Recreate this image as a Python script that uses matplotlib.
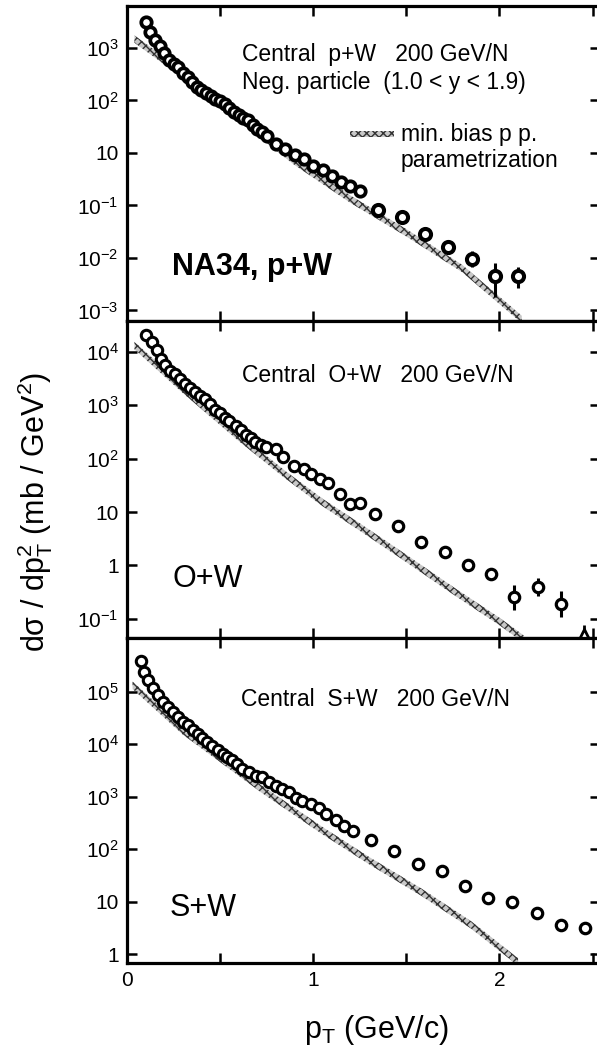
import numpy as np
import matplotlib.pyplot as plt
from matplotlib.patches import Rectangle
from matplotlib.ticker import FixedLocator, FixedFormatter, NullLocator

plt.rcParams['font.family'] = ['Liberation Sans', 'DejaVu Sans']
plt.rcParams['mathtext.fontset'] = 'custom'
plt.rcParams['mathtext.rm'] = 'Liberation Sans'
plt.rcParams['mathtext.default'] = 'regular'
plt.rcParams['hatch.linewidth'] = 1.0

# ---- data (y read off in log10 decades) ----
# top panel p+W  (axis labels in the original skip "1": 10^3,10^2,10,10^-1,...)
pw_pt = [0.10, 0.125, 0.15, 0.175, 0.20, 0.225, 0.25, 0.275, 0.30, 0.325, 0.35, 0.375,
         0.40, 0.425, 0.45, 0.475, 0.50, 0.525, 0.55, 0.575, 0.60, 0.625, 0.65, 0.675,
         0.70, 0.725, 0.75, 0.80, 0.85, 0.90, 0.95, 1.00, 1.05, 1.10, 1.15, 1.20, 1.25]
pw_log = [3.50, 3.30, 3.15, 3.03, 2.90, 2.78, 2.70, 2.63, 2.53, 2.44, 2.35, 2.26,
          2.20, 2.14, 2.09, 2.03, 1.99, 1.93, 1.86, 1.78, 1.73, 1.67, 1.62, 1.53,
          1.46, 1.40, 1.32, 1.18, 1.07, 0.96, 0.89, 0.76, 0.67, 0.56, 0.45, 0.38, 0.27]
pw_hi_pt = [1.35, 1.475, 1.6, 1.725, 1.85, 1.975, 2.1]
pw_hi_log = [-0.08, -0.22, -0.55, -0.80, -1.02, -1.35, -1.35]
pw_err_dn = [0, 0, 0.10, 0.12, 0.16, 0.40, 0.22]
pw_err_up = [0, 0, 0.10, 0.12, 0.16, 0.25, 0.18]
pw_band_pt = [0.04, 0.3, 0.6, 0.9, 1.2, 1.5, 1.8, 2.12]
pw_band_log = [3.17, 2.50, 1.68, 0.84, 0.12, -0.52, -1.20, -2.17]

# middle panel O+W
ow_pt = [0.10, 0.135, 0.16, 0.18, 0.205, 0.23, 0.26, 0.285, 0.31, 0.34, 0.365, 0.39,
         0.42, 0.445, 0.47, 0.50, 0.525, 0.55, 0.585, 0.61, 0.64, 0.665, 0.69, 0.72,
         0.745, 0.80, 0.84, 0.895, 0.95, 0.99, 1.035, 1.08, 1.145, 1.195, 1.25]
ow_log = [4.32, 4.18, 4.03, 3.87, 3.75, 3.65, 3.59, 3.49, 3.40, 3.33, 3.25, 3.17,
          3.11, 3.02, 2.92, 2.86, 2.76, 2.70, 2.62, 2.54, 2.44, 2.38, 2.32, 2.25,
          2.22, 2.19, 2.03, 1.87, 1.81, 1.71, 1.62, 1.55, 1.34, 1.15, 1.17]
ow_hi_pt = [1.33, 1.455, 1.58, 1.705, 1.83, 1.955, 2.08, 2.205, 2.33]
ow_hi_log = [0.96, 0.73, 0.44, 0.25, 0.0, -0.16, -0.60, -0.41, -0.72]
ow_err = [0, 0, 0, 0, 0.10, 0.12, 0.24, 0.17, 0.25]
ow_limit_pt = 2.455
ow_band_pt = [0.04, 0.3, 0.6, 0.85, 1.05, 1.25, 1.5, 1.75, 2.0, 2.13]
ow_band_log = [4.12, 3.30, 2.40, 1.70, 1.18, 0.72, 0.13, -0.47, -1.05, -1.38]

# bottom panel S+W
sw_pt = [0.075, 0.093, 0.111, 0.138, 0.165, 0.191, 0.218, 0.245, 0.272, 0.299, 0.325,
         0.352, 0.379, 0.405, 0.432, 0.459, 0.486, 0.513, 0.539, 0.566, 0.593, 0.62,
         0.656, 0.692, 0.727, 0.763, 0.799, 0.835, 0.87, 0.906, 0.942, 0.987, 1.031,
         1.067, 1.121, 1.165, 1.216]
sw_log = [5.58, 5.38, 5.22, 5.06, 4.94, 4.81, 4.71, 4.62, 4.52, 4.42, 4.36,
          4.26, 4.20, 4.12, 4.04, 3.97, 3.89, 3.81, 3.75, 3.69, 3.62, 3.52,
          3.46, 3.40, 3.37, 3.27, 3.21, 3.14, 3.08, 2.98, 2.92, 2.85, 2.79,
          2.66, 2.56, 2.44, 2.35]
sw_hi_pt = [1.31, 1.435, 1.56, 1.69, 1.815, 1.94, 2.07, 2.2, 2.33, 2.46]
sw_hi_log = [2.18, 1.96, 1.71, 1.59, 1.30, 1.07, 0.99, 0.79, 0.56, 0.49]
sw_band_pt = [0.03, 0.3, 0.72, 1.05, 1.3, 1.58, 1.85, 2.1]
sw_band_log = [5.12, 4.25, 3.15, 2.35, 1.78, 1.18, 0.55, -0.15]

top_ticks = [3, 2, 1, 0, -1, -2]
top_labels = ['$10^3$', '$10^2$', '10', '$10^{-1}$', '$10^{-2}$', '$10^{-3}$']
mid_ticks = [4, 3, 2, 1, 0, -1]
mid_labels = ['$10^4$', '$10^3$', '$10^2$', '10', '1', '$10^{-1}$']
bot_ticks = [5, 4, 3, 2, 1, 0]
bot_labels = ['$10^5$', '$10^4$', '$10^3$', '$10^2$', '10', '1']

W, H = 597, 1055
fig = plt.figure(figsize=(W / 100, H / 100), dpi=100)


def px_rect(x0, y0, x1, y1):
    return [x0 / W, 1 - y1 / H, (x1 - x0) / W, (y1 - y0) / H]


def setup(ax, ylog, ticks, labels, xlabels):
    ax.set_yscale('log')
    ax.set_xlim(0, 2.54)
    ax.set_ylim(10 ** ylog[0], 10 ** ylog[1])
    ax.yaxis.set_major_locator(FixedLocator([10.0 ** t for t in ticks]))
    ax.yaxis.set_major_formatter(FixedFormatter(labels))
    ax.yaxis.set_minor_locator(NullLocator())
    ax.xaxis.set_major_locator(FixedLocator([0, 0.5, 1, 1.5, 2, 2.5]))
    if xlabels:
        ax.xaxis.set_major_formatter(FixedFormatter(['0', '', '1', '', '2', '']))
    else:
        ax.xaxis.set_major_formatter(FixedFormatter([''] * 6))
    ax.tick_params(direction='in', length=7, width=1.8, top=True, right=True,
                   labelsize=15, pad=6)
    for s in ax.spines.values():
        s.set_linewidth(2.3)
    # right frame falls just outside the scanned picture; only its ticks show
    ax.spines['right'].set_visible(False)


def band(ax, pt, logy):
    y = 10 ** np.array(logy)
    ax.fill_between(pt, y / 10 ** 0.07, y * 10 ** 0.07, facecolor='#c8c8c8',
                    edgecolor='#333333', hatch='xxxx', linewidth=0, zorder=1)


def dense(ax, pt, logy, ms=7.5, mew=2.2):
    ax.plot(pt, 10 ** np.array(logy), 'o', ms=ms, mfc='white', mec='black',
            mew=mew, zorder=3)


def sparse(ax, pt, logy, dn, up, ms=7.5, mew=2.3):
    y = 10 ** np.array(logy)
    lo = y - y / 10 ** np.array(dn)
    hi = y * 10 ** np.array(up) - y
    ax.errorbar(pt, y, yerr=[lo, hi], fmt='o', ms=ms, mfc='white', mec='black',
                mew=mew, ecolor='black', elinewidth=2.2, capsize=0, zorder=3)


ax1 = fig.add_axes(px_rect(127, 6, 600, 321))
ax2 = fig.add_axes(px_rect(127, 321, 600, 638))
ax3 = fig.add_axes(px_rect(127, 638, 600, 963))

setup(ax1, (-2.2, 3.8), top_ticks, top_labels, False)
setup(ax2, (-1.36, 4.58), mid_ticks, mid_labels, False)
setup(ax3, (-0.17, 6.02), bot_ticks, bot_labels, True)

band(ax1, pw_band_pt, pw_band_log)
dense(ax1, pw_pt, pw_log, ms=7.5, mew=2.7)
sparse(ax1, pw_hi_pt, pw_hi_log, pw_err_dn, pw_err_up, ms=8, mew=2.9)

band(ax2, ow_band_pt, ow_band_log)
dense(ax2, ow_pt, ow_log)
sparse(ax2, ow_hi_pt, ow_hi_log, ow_err, ow_err)
ybot = ax2.get_ylim()[0]
ax2.vlines(ow_limit_pt, ybot, ybot * 10 ** 0.25, color='black', lw=2, zorder=3)
ax2.plot(ow_limit_pt, ybot * 10 ** 0.05, '^', ms=8, mfc='white', mec='black',
         mew=2, clip_on=False, zorder=4)

band(ax3, sw_band_pt, sw_band_log)
dense(ax3, sw_pt, sw_log)
sparse(ax3, sw_hi_pt, sw_hi_log, [0] * len(sw_hi_pt), [0] * len(sw_hi_pt))


def ftext(x, y, s, **kw):
    fig.text(x / W, 1 - y / H, s, va='center', **kw)


ftext(242, 55, 'Central  p+W   200 GeV/N', fontsize=16.5)
ftext(242, 83, 'Neg. particle  (1.0 < y < 1.9)', fontsize=16.5)
ftext(401, 134, 'min. bias p p.', fontsize=16.5)
ftext(401, 160, 'parametrization', fontsize=16.5)
fig.add_artist(Rectangle((350 / W, 1 - 137 / H), 44 / W, 6 / H, transform=fig.transFigure,
                         facecolor='#c8c8c8', edgecolor='#333333', hatch='xxxx', linewidth=0))
ftext(172, 267, 'NA34, p+W', fontsize=22, fontweight='bold')

ftext(242, 375, 'Central  O+W   200 GeV/N', fontsize=16.5)
ftext(172, 579, 'O+W', fontsize=22)

ftext(241, 700, 'Central  S+W   200 GeV/N', fontsize=16.5)
ftext(170, 908, 'S+W', fontsize=22)

fig.text(35 / W, 1 - 512 / H, 'dσ / dp$_T^2$ (mb / GeV$^2$)', rotation=90,
         fontsize=22, ha='center', va='center')
fig.text(376 / W, 1 - 1030 / H, 'p$_T$ (GeV/c)', fontsize=22, ha='center', va='center')

fig.savefig('out.png', dpi=100)
